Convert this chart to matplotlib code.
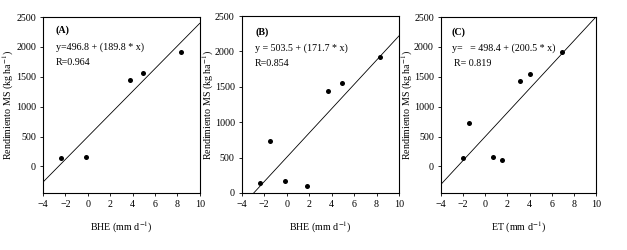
import matplotlib
matplotlib.use("Agg")
import matplotlib.pyplot as plt
import numpy as np

plt.rcParams['font.family'] = ['Liberation Serif', 'DejaVu Serif']
plt.rcParams['mathtext.fontset'] = 'stix'

# Data
bhe_a = [-2.4, -0.15, 3.75, 4.9, 8.3]
yield_a = [140, 165, 1440, 1555, 1915]
bhe_b = [-2.4, -1.45, -0.15, 1.8, 3.7, 4.9, 8.3]
yield_b = [140, 730, 165, 100, 1440, 1560, 1915]
et_c = [-2.0, -1.5, 0.7, 1.5, 3.1, 4.0, 6.9]
yield_c = [140, 730, 165, 100, 1435, 1550, 1915]

intercepts = [496.8, 503.5, 498.4]
slopes = [189.8, 171.7, 200.5]
eq_texts = ["y=496.8 + (189.8 * x)", "y = 503.5 + (171.7 * x)", "y=   = 498.4 + (200.5 * x)"]
r_texts = ["R=0.964", "R=0.854", "R= 0.819"]
panel_labels = ["(A)", "(B)", "(C)"]
xlabels = ["BHE (mm d$^{-1}$)", "BHE (mm d$^{-1}$)", "ET (mm d$^{-1}$)"]
ylabel = "Rendimiento MS (kg ha$^{-1}$)"
xticks = [-4, -2, 0, 2, 4, 6, 8, 10]
yticks = [0, 500, 1000, 1500, 2000, 2500]
ylims = [(-445, 2500), (0, 2500), (-445, 2500)]

fig = plt.figure(figsize=(6.27, 2.5), dpi=100)
positions = [
    [0.0686, 0.228, 0.250, 0.704],
    [0.3855, 0.228, 0.251, 0.708],
    [0.703, 0.228, 0.2477, 0.704],
]
ylabel_x = [-0.223, -0.214, -0.217]
txt_x = [0.081, 0.085, 0.071]
r_x = [0.081, 0.085, 0.086]
txt_y = [(0.926, 0.831, 0.74), (0.911, 0.82, 0.733), (0.913, 0.822, 0.737)]
xs_all = [bhe_a, bhe_b, et_c]
ys_all = [yield_a, yield_b, yield_c]
fs = 7.2
for i in range(3):
    ax = fig.add_axes(positions[i])
    ax.scatter(xs_all[i], ys_all[i], s=13, color='black', zorder=3, linewidths=0)
    xl = np.array([-4, 10])
    ax.plot(xl, intercepts[i] + slopes[i] * xl, color='black', lw=0.6)
    ax.set_xlim(-4, 10)
    ax.set_ylim(*ylims[i])
    ax.set_xticks(xticks)
    ax.set_yticks(yticks)
    ax.tick_params(labelsize=fs, length=2, width=0.6, pad=3)
    for sp in ax.spines.values():
        sp.set_linewidth(0.8)
    ax.set_xlabel(xlabels[i], fontsize=fs, labelpad=8)
    ax.set_ylabel(ylabel, fontsize=fs, va='center')
    ax.yaxis.set_label_coords(ylabel_x[i], 0.5)
    ty = txt_y[i]
    ax.text(txt_x[i], ty[0], panel_labels[i], transform=ax.transAxes, fontsize=fs,
            fontweight='bold', va='center')
    ax.text(txt_x[i], ty[1], eq_texts[i], transform=ax.transAxes, fontsize=fs, va='center')
    ax.text(r_x[i], ty[2], r_texts[i], transform=ax.transAxes, fontsize=fs, va='center')

fig.savefig("out.png", dpi=100)
